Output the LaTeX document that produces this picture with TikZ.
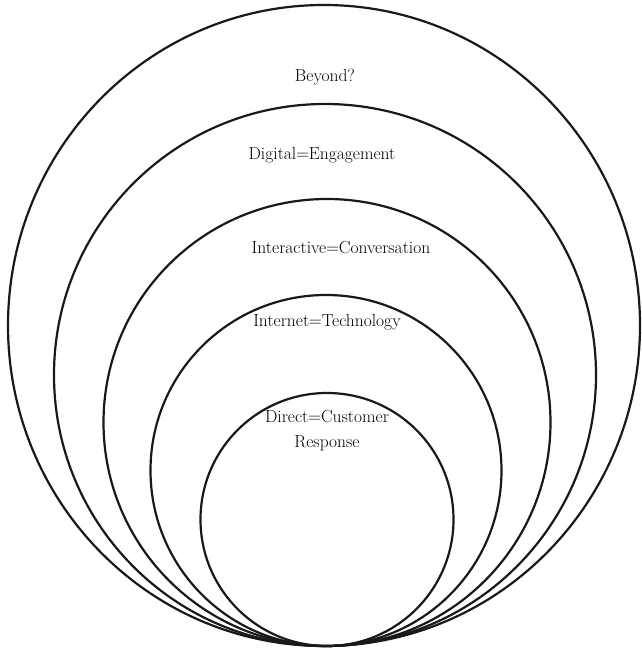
\documentclass[tikz,border=0pt]{standalone}
\usepackage{tikz}

\tikzset{
	ring/.style={line width=2.2pt, black!90},
	label/.style={font=\fontsize{17.5}{25}\selectfont, text=black, align=center}
}

\begin{document}
\begin{tikzpicture}[x=1pt,y=1pt]
	\useasboundingbox (0,0) rectangle (641,653);
	% rings, all touching at the bottom
	\draw[ring] (324,327.5) ellipse [x radius=316, y radius=320.5];
	\draw[ring] (325,278) circle [radius=271];
	\draw[ring] (327,230.5) circle [radius=223.5];
	\draw[ring] (326,182.5) circle [radius=175.5];
	\draw[ring] (327,133.5) circle [radius=126.5];
	% labels
	\node[label] (beyond) at (325,576) {Beyond?};
	\node[label] (digital) at (322,498) {Digital=Engagement};
	\node[label] (interactive) at (341,405) {Interactive=Conversation};
	\node[label] (internet) at (327,331) {Internet=Technology};
	\node[label] (direct) at (327,222) {Direct=Customer\\Response};
\end{tikzpicture}
\end{document}
